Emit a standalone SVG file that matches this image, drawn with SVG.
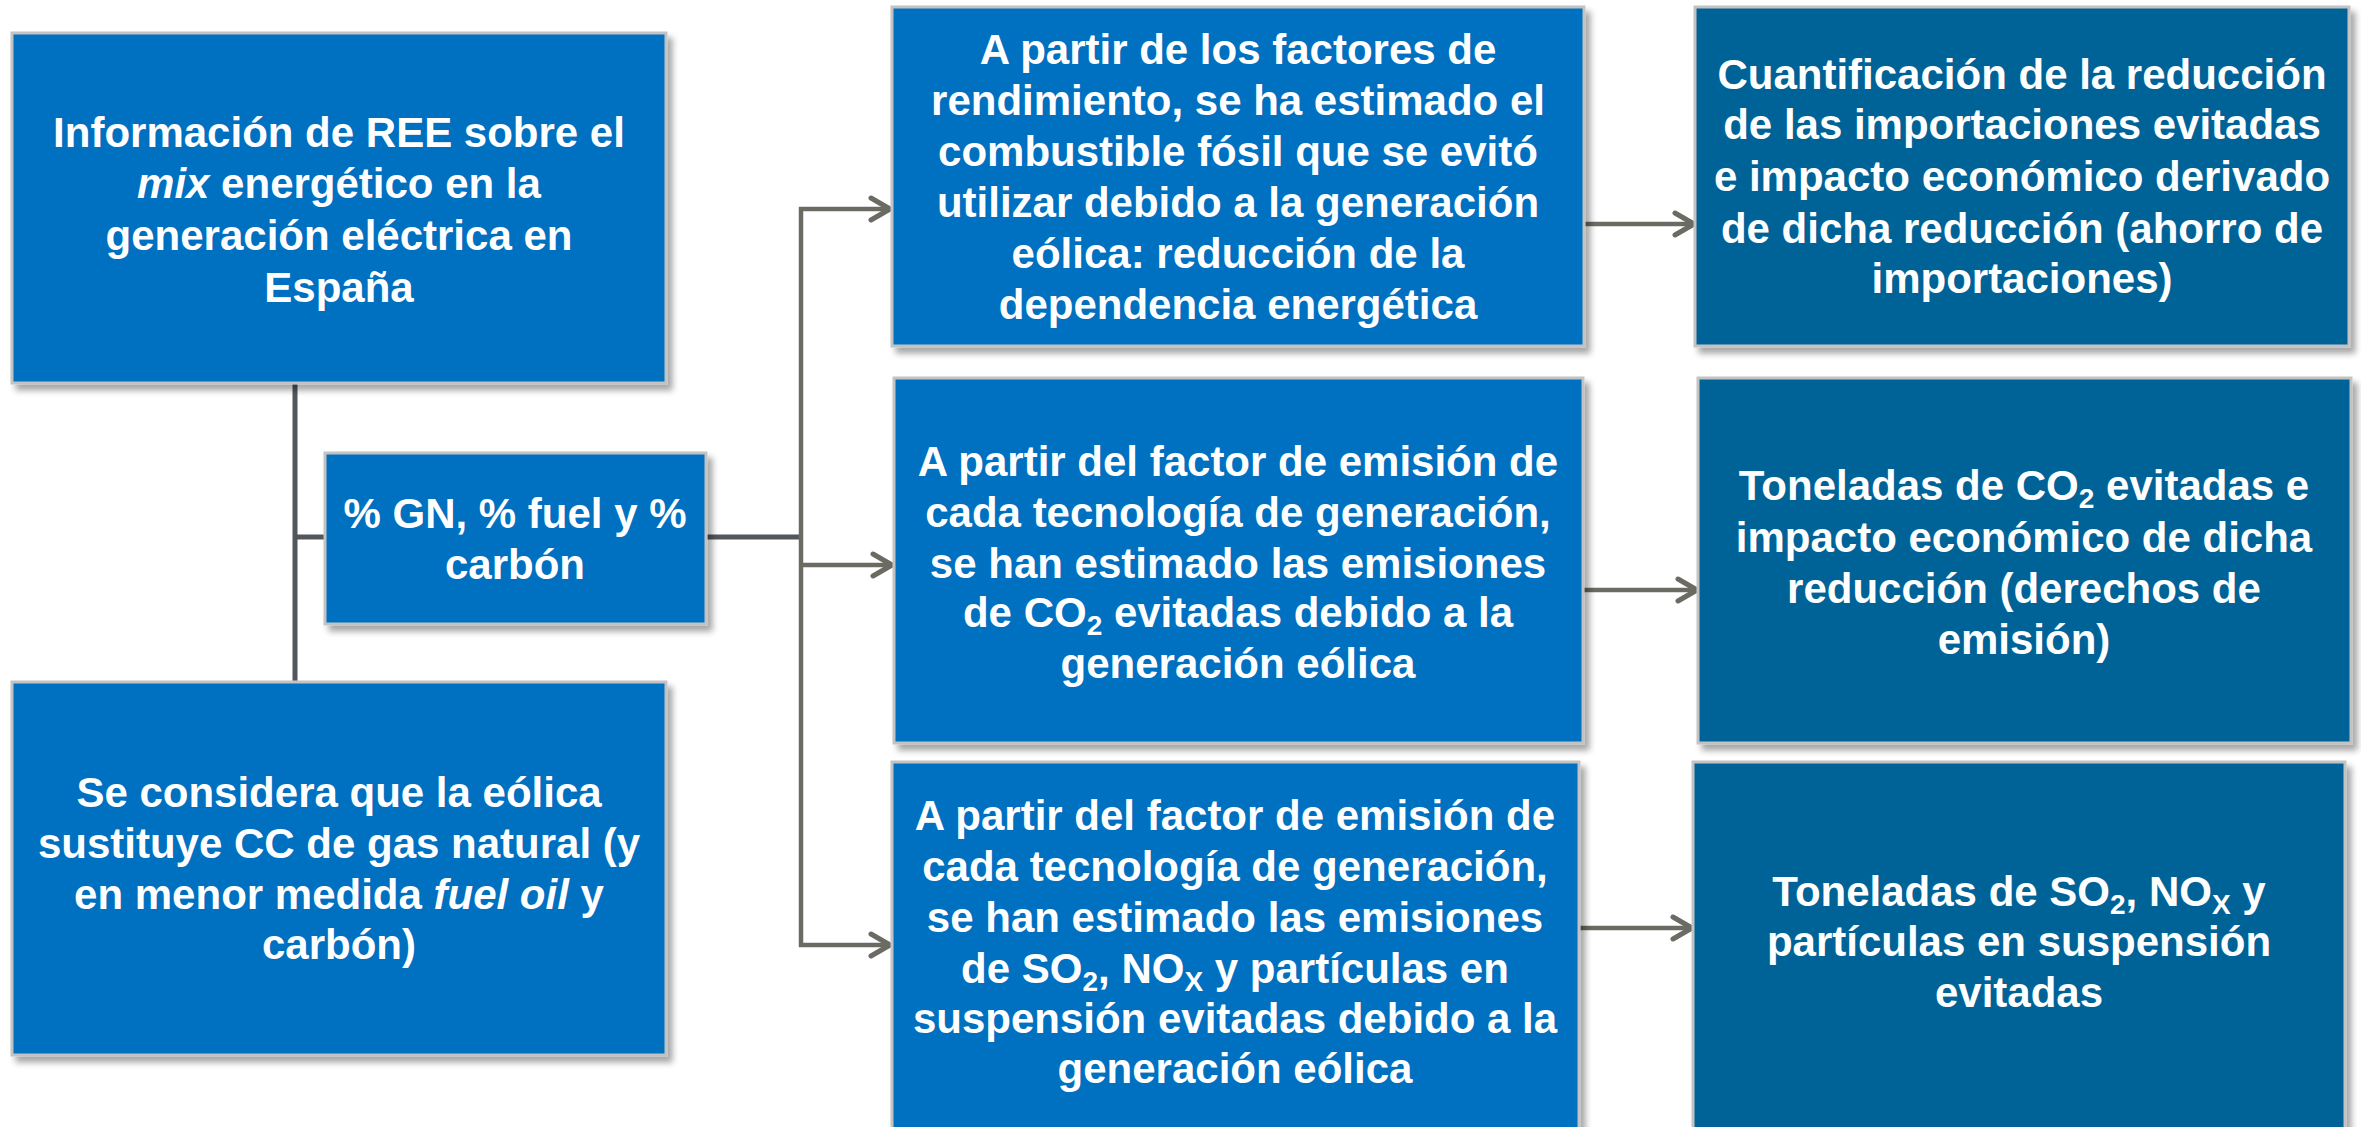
<svg xmlns="http://www.w3.org/2000/svg" width="2361" height="1127" viewBox="0 0 2361 1127">
<style>
.box{fill:#0070C0;stroke:#C3C3C3;stroke-width:3;filter:url(#sh)}
.box2{fill:#046498;stroke:#C3C3C3;stroke-width:3;filter:url(#sh)}
.t{font-family:"Liberation Sans",Arial,sans-serif;font-weight:bold;font-size:42px;fill:#FFFFFF;text-anchor:middle}
.sub{font-size:28px}
.trunk{stroke:#53575C;stroke-width:5;fill:none}
.arr{stroke:#6B6B63;stroke-width:4.5;fill:none;marker-end:url(#ah)}
.bus{stroke:#6B6B63;stroke-width:4.5;fill:none}
</style>
<defs>
<filter id="sh" x="-5%" y="-5%" width="115%" height="115%">
<feDropShadow dx="5" dy="6" stdDeviation="3" flood-color="#000" flood-opacity="0.35"/>
</filter>
<marker id="ah" markerUnits="userSpaceOnUse" viewBox="0 0 26 30" refX="23" refY="15" markerWidth="26" markerHeight="30" orient="auto">
<path d="M4,4 L23,15 L4,26" fill="none" stroke="#6B6B63" stroke-width="5" stroke-linecap="round" stroke-linejoin="round"/>
</marker>
</defs>
<rect width="2361" height="1127" fill="#FFFFFF"/>
<g id="connectors">
<line class="trunk" x1="295" y1="383" x2="295" y2="682"/>
<line class="trunk" x1="295" y1="537" x2="325" y2="537"/>
<line class="trunk" x1="706" y1="537" x2="801" y2="537"/>
<line class="bus" x1="801" y1="207" x2="801" y2="947"/>
<line class="arr" x1="799" y1="209" x2="890" y2="209"/>
<line class="arr" x1="799" y1="565" x2="892" y2="565"/>
<line class="arr" x1="799" y1="945" x2="890" y2="945"/>
<line class="arr" x1="1584" y1="224" x2="1694" y2="224"/>
<line class="arr" x1="1583" y1="590" x2="1697" y2="590"/>
<line class="arr" x1="1579" y1="928" x2="1692" y2="928"/>
</g>
<g id="n_info">
<rect class="box" x="12" y="33" width="654" height="350"/>
<text class="t" x="339" y="147">Información de REE sobre el</text>
<text class="t" x="339" y="198"><tspan font-style="italic">mix</tspan> energético en la</text>
<text class="t" x="339" y="250">generación eléctrica en</text>
<text class="t" x="339" y="302">España</text>
</g>
<g id="n_pct">
<rect class="box" x="325" y="453" width="381" height="171"/>
<text class="t" x="515" y="528">% GN, % fuel y %</text>
<text class="t" x="515" y="579">carbón</text>
</g>
<g id="n_sust">
<rect class="box" x="12" y="682" width="654" height="373"/>
<text class="t" x="339" y="807">Se considera que la eólica</text>
<text class="t" x="339" y="858">sustituye CC de gas natural (y</text>
<text class="t" x="339" y="909">en menor medida <tspan font-style="italic">fuel oil</tspan> y</text>
<text class="t" x="339" y="959">carbón)</text>
</g>
<g id="n_rend">
<rect class="box" x="892" y="7" width="692" height="339"/>
<text class="t" x="1238" y="64">A partir de los factores de</text>
<text class="t" x="1238" y="115">rendimiento, se ha estimado el</text>
<text class="t" x="1238" y="166">combustible fósil que se evitó</text>
<text class="t" x="1238" y="217">utilizar debido a la generación</text>
<text class="t" x="1238" y="268">eólica: reducción de la</text>
<text class="t" x="1238" y="319">dependencia energética</text>
</g>
<g id="n_co2">
<rect class="box" x="894" y="378" width="689" height="365"/>
<text class="t" x="1238" y="476">A partir del factor de emisión de</text>
<text class="t" x="1238" y="527">cada tecnología de generación,</text>
<text class="t" x="1238" y="578">se han estimado las emisiones</text>
<text class="t" x="1238" y="627">de CO<tspan class="sub" dy="8">2</tspan><tspan dy="-8"> evitadas debido a la</tspan></text>
<text class="t" x="1238" y="678">generación eólica</text>
</g>
<g id="n_so2">
<rect class="box" x="892" y="762" width="687" height="380"/>
<text class="t" x="1235" y="830">A partir del factor de emisión de</text>
<text class="t" x="1235" y="881">cada tecnología de generación,</text>
<text class="t" x="1235" y="932">se han estimado las emisiones</text>
<text class="t" x="1235" y="983">de SO<tspan class="sub" dy="8">2</tspan><tspan dy="-8">, NO</tspan><tspan class="sub" dy="8">X</tspan><tspan dy="-8"> y partículas en</tspan></text>
<text class="t" x="1235" y="1033">suspensión evitadas debido a la</text>
<text class="t" x="1235" y="1083">generación eólica</text>
</g>
<g id="n_import">
<rect class="box2" x="1695" y="7" width="654" height="339"/>
<text class="t" x="2022" y="89">Cuantificación de la reducción</text>
<text class="t" x="2022" y="139">de las importaciones evitadas</text>
<text class="t" x="2022" y="191">e impacto económico derivado</text>
<text class="t" x="2022" y="243">de dicha reducción (ahorro de</text>
<text class="t" x="2022" y="293">importaciones)</text>
</g>
<g id="n_tco2">
<rect class="box2" x="1698" y="378" width="653" height="365"/>
<text class="t" x="2024" y="500">Toneladas de CO<tspan class="sub" dy="8">2</tspan><tspan dy="-8"> evitadas e</tspan></text>
<text class="t" x="2024" y="552">impacto económico de dicha</text>
<text class="t" x="2024" y="603">reducción (derechos de</text>
<text class="t" x="2024" y="654">emisión)</text>
</g>
<g id="n_tso2">
<rect class="box2" x="1693" y="762" width="652" height="380"/>
<text class="t" x="2019" y="906">Toneladas de SO<tspan class="sub" dy="8">2</tspan><tspan dy="-8">, NO</tspan><tspan class="sub" dy="8">X</tspan><tspan dy="-8"> y</tspan></text>
<text class="t" x="2019" y="956">partículas en suspensión</text>
<text class="t" x="2019" y="1007">evitadas</text>
</g>
</svg>
